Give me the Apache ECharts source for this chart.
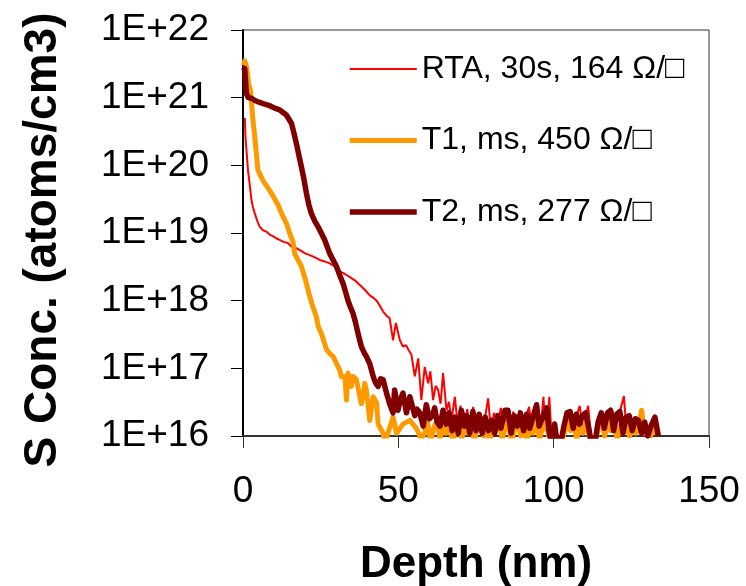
<!DOCTYPE html>
<html>
<head>
<meta charset="utf-8">
<script src="https://cdn.jsdelivr.net/npm/echarts@6/dist/echarts.min.js"></script>
<style>
html,body{margin:0;padding:0;background:#fff;}
#chart{width:746px;height:586px;}
</style>
</head>
<body>
<div id="chart"></div>
<script>
// Series names
var seriesNames = ['RTA, 30s, 164 \u03A9/\u25A1', 'T1, ms, 450 \u03A9/\u25A1', 'T2, ms, 277 \u03A9/\u25A1'];

// X tick labels / Y tick labels
var xTicks = [0, 50, 100, 150];
var yTickLabels = ['1E+16', '1E+17', '1E+18', '1E+19', '1E+20', '1E+21', '1E+22'];

// RTA, 30s (red, thin)
var rtaDepth = [0.6, 0.8, 1.2, 1.6, 2.2, 2.7, 3.2, 3.8, 4.6, 5.4, 6.4, 7.5, 8.6, 9.7, 10.8, 11.8, 13.0, 14.5, 15.5, 17.0,
  18.3, 20.0, 21.5, 23.0, 24.7, 26.3, 27.9, 29.5, 31.1, 32.7, 34.3, 36.0, 37.6, 39.2, 40.8, 42.0, 43.0, 44.0, 45.1, 46.2,
  47.2, 48.3, 48.8, 49.2, 50.5, 51.5, 52.5, 53.2, 54.2, 54.8, 55.3, 56.4, 57.4, 58.5, 59.6, 60.3, 61.2, 62.0, 62.8, 63.6,
  64.4, 65.5, 66.3, 67.1, 68.2, 69.0, 70.0, 71.0, 72.2, 73.0, 74.1, 75.0, 76.0, 77.0, 78.0, 78.9, 79.8, 80.8, 81.8, 83.0,
  84.0, 85.0, 86.0, 87.0, 88.0, 89.0, 90.0, 91.0, 92.1, 93.0, 94.0, 95.0, 96.0, 96.7, 97.3, 98.0, 98.6, 99.3, 100.0, 101.0,
  102.0, 103.0, 104.0, 105.0, 106.0, 107.0, 108.4, 109.2, 110.0, 111.1, 112.0, 113.0, 114.0, 115.0, 116.0, 117.0, 118.0, 119.0, 120.0, 121.0,
  122.6, 123.4, 124.2, 125.0, 126.0, 127.0, 128.0, 129.0, 130.0, 131.0, 132.0, 133.0];
var rtaConc = [5.0e20, 2.6e20, 1.5e20, 8.5e19, 5.0e19, 3.1e19, 2.4e19, 1.95e19, 1.5e19, 1.23e19, 1.1e19, 1.05e19, 9.5e18, 8.9e18, 8.3e18, 7.9e18, 7.4e18, 7.1e18, 6.3e18, 6.0e18,
  5.6e18, 5.0e18, 4.7e18, 4.4e18, 4.0e18, 3.8e18, 3.55e18, 3.2e18, 2.7e18, 2.5e18, 2.25e18, 2.0e18, 1.7e18, 1.45e18, 1.2e18, 1.1e18, 1.0e18, 8.5e17, 6.9e17, 6.0e17,
  5.5e17, 2.6e17, 3.6e17, 4.7e17, 2.6e17, 2.1e17, 2.2e17, 1.9e17, 1.6e17, 1.6e17, 7.6e16, 1.4e17, 3.4e16, 1.05e17, 6.0e16, 9.0e16, 3.4e16, 5.5e16, 4.8e16, 3.0e16,
  8.5e16, 2.4e16, 3.2e16, 1.7e16, 3.8e16, 1.6e16, 2.8e16, 1.2e16, 2.5e16, 1.3e16, 2.7e16, 1.1e16, 2.2e16, 1.3e16, 2.0e16, 3.6e16, 1.2e16, 2.2e16, 1.4e16, 2.6e16,
  1.2e16, 2.0e16, 1.1e16, 2.3e16, 1.3e16, 2.4e16, 1.1e16, 1.9e16, 2.7e16, 1.2e16, 1.8e16, 1.0e16, 1.6e16, 3.8e16, 1.2e16, 1.4e16, 3.8e16, 1.0e16, 1.5e16, 8e15,
  7e15, 9e15, 1.6e16, 2.2e16, 1.2e16, 1.8e16, 2.8e16, 1.3e16, 1.6e16, 2.8e16, 1.0e16, 7e15, 9e15, 1.8e16, 1.3e16, 2.1e16, 1.2e16, 2.3e16, 1.4e16, 2.0e16,
  3.9e16, 1.3e16, 1.8e16, 1.2e16, 1.6e16, 1.1e16, 1.5e16, 1.0e16, 1.4e16, 1.1e16, 1.5e16, 1.0e16];

// T1, ms (orange, thick)
var t1Depth = [0.2, 0.55, 1.2, 1.8, 2.4, 3.2, 3.8, 4.3, 4.8, 6.4, 8.1, 9.7, 11.3, 12.4, 14.0, 15.0, 16.1, 16.6, 18.8, 19.9,
  21.5, 22.5, 23.6, 24.2, 25.2, 26.9, 27.9, 29.0, 30.1, 31.1, 31.6, 32.8, 33.3, 33.8, 34.9, 35.4, 36.5, 38.1, 39.2, 39.7,
  40.8, 41.9, 43.0, 43.5, 45.1, 45.7, 48.3, 49.4, 51.5, 53.7, 55.8, 57.4, 58.4, 59.4, 60.4, 61.4, 62.4, 63.4, 64.4, 65.4,
  66.4, 67.4, 68.4, 69.4, 70.4, 71.4, 72.4, 73.4, 74.4, 75.4, 76.4, 77.4, 78.4, 79.4, 80.4, 81.4, 82.4, 83.4, 84.4, 85.4,
  86.4, 87.4, 88.4, 89.4, 90.4, 91.4, 92.4, 93.4, 94.4, 95.4, 96.4, 97.4, 98.4, 99.4, 100.4, 101.4, 102.4, 103.4, 104.4, 105.4,
  106.4, 107.4, 108.4, 109.4, 110.4, 111.4, 112.4, 113.4, 114.4, 115.4, 116.4, 117.4, 118.4, 119.4, 120.4, 121.4, 122.4, 123.4, 124.4, 125.4,
  126.4, 127.4, 128.3, 129.2, 130.2, 131.2, 132.2, 133.2];
var t1Conc = [3.0e21, 3.5e21, 2.8e21, 1.6e21, 1.29e21, 4.7e20, 2.6e20, 1.5e20, 8.5e19, 6.0e19, 4.6e19, 3.5e19, 2.6e19, 1.95e19, 1.38e19, 1.0e19, 7.4e18, 5.0e18, 3.2e18, 2.2e18,
  1.15e18, 8.1e17, 5.8e17, 4.2e17, 3.3e17, 1.9e17, 1.65e17, 1.5e17, 1.18e17, 9.5e16, 7.6e16, 7.6e16, 3.4e16, 8.5e16, 5.4e16, 7.6e16, 6.8e16, 3.0e16, 6.0e16, 4.8e16,
  1.7e16, 3.8e16, 3.1e16, 1.5e16, 1.1e16, 8e15, 1.9e16, 1.1e16, 1.5e16, 1.7e16, 1.3e16, 9e15, 1.1e16, 1.6e16, 8e15, 1.3e16, 1.7e16, 9e15, 1.4e16, 1.1e16,
  1.8e16, 8e15, 1.2e16, 1.6e16, 9e15, 1.5e16, 1.1e16, 1.7e16, 8e15, 1.3e16, 1.9e16, 1.0e16, 1.4e16, 8e15, 1.5e16, 1.2e16, 1.8e16, 9e15, 1.3e16, 1.6e16,
  8e15, 1.2e16, 1.7e16, 1.0e16, 1.4e16, 8e15, 1.5e16, 1.1e16, 1.9e16, 9e15, 1.3e16, 1.6e16, 1.0e16, 7e15, 1.2e16, 7e15, 8e15, 1.1e16, 1.7e16, 1.2e16,
  1.5e16, 9e15, 1.4e16, 1.1e16, 1.6e16, 1.0e16, 7e15, 8e15, 1.3e16, 1.8e16, 1.0e16, 1.5e16, 1.2e16, 1.7e16, 9e15, 1.4e16, 1.1e16, 1.6e16, 1.0e16, 1.3e16,
  1.1e16, 1.5e16, 2.4e16, 1.1e16, 1.3e16, 1.0e16, 1.4e16, 1.1e16];

// T2, ms (dark red, thick)
var t2Depth = [0.2, 0.55, 1.1, 1.7, 2.7, 4.0, 5.4, 7.0, 8.6, 10.2, 11.8, 13.0, 14.0, 14.8, 15.6, 16.4, 17.2, 18.0, 18.8, 19.6,
  20.4, 21.2, 22.0, 23.1, 24.2, 25.2, 26.3, 27.9, 29.0, 30.1, 31.1, 32.2, 33.0, 33.8, 34.6, 35.4, 36.2, 37.0, 38.1, 39.0,
  39.7, 40.8, 41.9, 42.6, 43.5, 44.3, 45.1, 46.2, 47.2, 48.3, 48.8, 49.9, 50.7, 51.5, 52.6, 53.7, 54.2, 55.3, 56.0, 56.9,
  58.0, 59.0, 60.0, 61.0, 61.7, 62.5, 63.4, 64.4, 65.4, 66.3, 67.3, 68.2, 69.3, 70.3, 71.3, 72.0, 73.0, 74.0, 75.0, 76.0,
  77.0, 78.0, 79.0, 80.0, 81.0, 82.0, 83.0, 84.3, 85.3, 86.3, 87.3, 88.3, 89.3, 90.3, 91.3, 92.3, 93.3, 94.5, 95.3, 96.3,
  97.7, 98.5, 99.3, 100.3, 101.3, 102.3, 103.3, 104.3, 105.3, 106.3, 107.3, 108.3, 109.3, 110.3, 111.3, 112.3, 113.3, 114.3, 115.3, 116.3,
  117.3, 118.3, 119.3, 120.3, 121.3, 122.3, 123.3, 124.3, 125.3, 126.3, 127.3, 128.3, 129.3, 130.3, 131.3, 132.6, 133.7];
var t2Conc = [2.5e21, 2.7e21, 1.15e21, 1.0e21, 9.8e20, 9.0e20, 8.5e20, 8.0e20, 7.6e20, 7.0e20, 6.6e20, 6.0e20, 5.5e20, 4.8e20, 4.2e20, 3.0e20, 2.1e20, 1.4e20, 9.5e19, 6.3e19,
  3.9e19, 2.6e19, 1.95e19, 1.5e19, 1.23e19, 1.0e19, 7.9e18, 5.0e18, 4.0e18, 3.2e18, 2.4e18, 1.8e18, 1.35e18, 1.0e18, 8.0e17, 6.5e17, 4.8e17, 3.3e17, 2.1e17, 1.7e17,
  1.5e17, 1.17e17, 7.6e16, 6.2e16, 5.4e16, 7.0e16, 6.8e16, 4.3e16, 3.0e16, 2.2e16, 4.8e16, 2.4e16, 3.5e16, 4.3e16, 2.2e16, 3.8e16, 3.8e16, 2.0e16, 2.5e16, 2.2e16,
  1.4e16, 2.9e16, 1.8e16, 2.0e16, 2.6e16, 1.6e16, 1.4e16, 2.4e16, 1.5e16, 2.2e16, 1.2e16, 1.9e16, 1.1e16, 2.4e16, 1.4e16, 2.0e16, 1.1e16, 2.3e16, 1.2e16, 2.1e16,
  1.1e16, 1.9e16, 1.2e16, 1.7e16, 1.1e16, 2.0e16, 1.3e16, 2.4e16, 2.4e16, 1.1e16, 2.0e16, 1.4e16, 2.2e16, 1.2e16, 2.1e16, 1.3e16, 1.9e16, 2.9e16, 1.4e16, 1.8e16,
  2.6e16, 1.2e16, 8e15, 1.5e16, 7e15, 8e15, 1.4e16, 2.2e16, 2.3e16, 1.3e16, 2.1e16, 1.5e16, 2.0e16, 2.2e16, 1.3e16, 7e15, 8e15, 1.6e16, 2.2e16, 1.3e16,
  2.2e16, 2.4e16, 1.2e16, 2.1e16, 2.3e16, 1.1e16, 1.9e16, 2.0e16, 1.2e16, 1.8e16, 1.7e16, 1.1e16, 1.6e16, 1.0e16, 1.4e16, 1.9e16, 1.0e16];

// Series styles
var seriesColors = ['#FF0000', '#FF9900', '#800000'];
var seriesWidths = [2, 5, 5.5];

function pairs(xs, ys) {
  var out = [];
  for (var i = 0; i < xs.length; i++) out.push([xs[i], ys[i]]);
  return out;
}

var FONT = "'Liberation Sans', Arial, sans-serif";
var chart = echarts.init(document.getElementById('chart'), null, {renderer: 'canvas'});
chart.setOption({
  animation: false,
  backgroundColor: '#ffffff',
  grid: {left: 243, right: 37, top: 30, bottom: 150, show: true, borderColor: '#333', borderWidth: 1,
    backgroundColor: 'transparent', outerBoundsMode: 'none', containLabel: false},
  legend: {
    data: seriesNames.map(function (n, i) {
      return {name: n, lineStyle: {color: seriesColors[i], width: seriesWidths[i]}};
    }),
    orient: 'vertical',
    left: 342,
    top: 48,
    itemWidth: 67,
    itemHeight: 14,
    itemGap: 39.5,
    selectedMode: false,
    itemStyle: {opacity: 0},
    textStyle: {fontFamily: FONT, fontSize: 32, color: '#000', lineHeight: 32}
  },
  xAxis: {
    type: 'value', min: 0, max: 150, interval: 50,
    name: 'Depth (nm)', nameLocation: 'middle', nameGap: 107,
    nameTextStyle: {fontFamily: FONT, fontSize: 44, fontWeight: 'bold', color: '#000'},
    axisLine: {lineStyle: {color: '#333', width: 2}},
    axisTick: {show: true, inside: false, length: 12, lineStyle: {color: '#333', width: 1}},
    axisLabel: {fontFamily: FONT, fontSize: 37, color: '#000', margin: 37,
      formatter: function (v) { return xTicks.indexOf(v) >= 0 ? String(v) : ''; }},
    splitLine: {show: false}
  },
  yAxis: {
    type: 'log', logBase: 10, min: 1e16, max: 1e22, splitNumber: 6,
    name: 'S Conc. (atoms/cm3)', nameLocation: 'middle', nameGap: 177, nameRotate: 90,
    nameTextStyle: {fontFamily: FONT, fontSize: 46, fontWeight: 'bold', color: '#000', padding: [0, 14, 0, 0]},
    axisLine: {show: true, lineStyle: {color: '#000', width: 2}},
    axisTick: {show: true, inside: false, length: 12, lineStyle: {color: '#000', width: 1}},
    axisLabel: {fontFamily: FONT, fontSize: 37, color: '#000', margin: 34,
      formatter: function (v) {
        var e = Math.round(Math.log(v) / Math.LN10);
        return yTickLabels[e - 16] || '';
      }},
    splitLine: {show: false}
  },
  series: [
    {name: seriesNames[0], type: 'line', data: pairs(rtaDepth, rtaConc), symbol: 'none', showSymbol: false,
      lineStyle: {color: seriesColors[0], width: seriesWidths[0]}, itemStyle: {color: seriesColors[0]}},
    {name: seriesNames[1], type: 'line', data: pairs(t1Depth, t1Conc), symbol: 'none', showSymbol: false,
      lineStyle: {color: seriesColors[1], width: seriesWidths[1], join: 'round'}, itemStyle: {color: seriesColors[1]}},
    {name: seriesNames[2], type: 'line', data: pairs(t2Depth, t2Conc), symbol: 'none', showSymbol: false,
      lineStyle: {color: seriesColors[2], width: seriesWidths[2], join: 'round'}, itemStyle: {color: seriesColors[2]}}
  ]
});
</script>
</body>
</html>
